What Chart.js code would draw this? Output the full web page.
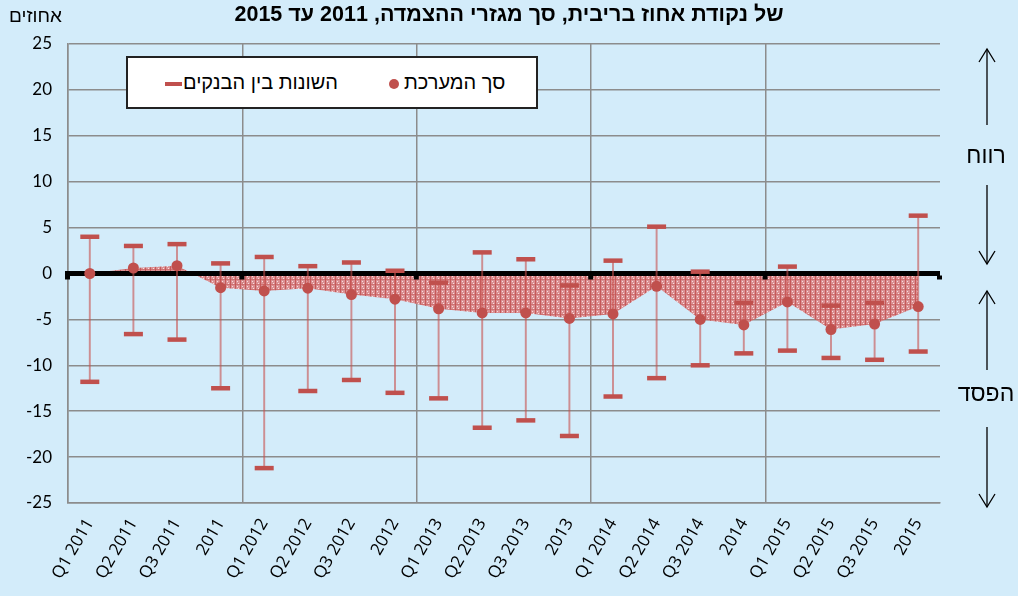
<!DOCTYPE html>
<html>
<head>
<meta charset="utf-8">
<script src="https://cdn.jsdelivr.net/npm/chart.js@4.4.0/dist/chart.umd.min.js"></script>
<style>
  html, body { margin: 0; padding: 0; }
  body { width: 1018px; height: 596px; background: #d3ecfa; position: relative; overflow: hidden; font-family: "Liberation Sans", "DejaVu Sans", sans-serif; }
  #wrap { position: absolute; left: 0; top: 0; width: 1018px; height: 596px; }
  .title { position: absolute; top: 2px; left: 0; width: 1018px; text-align: center; font-weight: bold; font-size: 21.5px; direction: rtl; color: #000; }
  .unit { position: absolute; top: 5px; left: 9px; font-size: 19px; direction: rtl; }
  .legend { position: absolute; left: 126px; top: 56px; width: 412px; height: 53px; background: #fff; border: 2px solid #222; box-sizing: border-box; }
  .legend span { position: absolute; top: 13px; font-size: 20px; direction: rtl; white-space: nowrap; }
  .side { position: absolute; font-size: 23px; direction: rtl; width: 70px; text-align: center; left: 951px; }
  svg { position: absolute; left: 0; top: 0; }
</style>
</head>
<body>
<div id="wrap"><canvas id="chart" width="1018" height="596"></canvas></div>
<div class="title">של נקודת אחוז בריבית, סך מגזרי ההצמדה, 2011 עד 2015</div>
<div class="unit">אחוזים</div>
<div class="legend">
  <svg width="412" height="53"><line x1="37" y1="26" x2="54" y2="26" stroke="#c0504d" stroke-width="4"/><circle cx="266" cy="26" r="5" fill="#c0504d"/></svg>
  <span style="left:55px">השונות בין הבנקים</span>
  <span style="left:276px">סך המערכת</span>
</div>
<svg width="1018" height="596" style="pointer-events:none">
  <g stroke="#000" stroke-width="1.3" fill="none">
    <line x1="987" y1="49" x2="987" y2="125"/><polyline points="979,62 987,49 995,62"/>
    <line x1="987" y1="185" x2="987" y2="264"/><polyline points="979,251 987,264 995,251"/>
    <line x1="987" y1="291" x2="987" y2="370"/><polyline points="979,304 987,291 995,304"/>
    <line x1="987" y1="427" x2="987" y2="507"/><polyline points="979,494 987,507 995,494"/>
  </g>
</svg>
<div class="side" style="top:142px">רווח</div>
<div class="side" style="top:380px">הפסד</div>
<script>
let labels = ['Q1 2011', 'Q2 2011', 'Q3 2011', '2011', 'Q1 2012', 'Q2 2012', 'Q3 2012', '2012',
  'Q1 2013', 'Q2 2013', 'Q3 2013', '2013', 'Q1 2014', 'Q2 2014', 'Q3 2014', '2014',
  'Q1 2015', 'Q2 2015', 'Q3 2015', '2015'];
// total system
let totalSystem = [0.0, 0.6, 0.85, -1.55, -1.9, -1.6, -2.3, -2.8,
  -3.85, -4.3, -4.3, -4.9, -4.4, -1.4, -5.0, -5.6,
  -3.1, -6.1, -5.5, -3.6];
// spread between banks - top and bottom
let bankHigh = [4.0, 3.0, 3.2, 1.1, 1.8, 0.8, 1.2, 0.3,
  -1.0, 2.3, 1.55, -1.3, 1.4, 5.1, 0.2, -3.2,
  0.75, -3.5, -3.2, 6.3];
let bankLow = [-11.8, -6.6, -7.2, -12.5, -21.2, -12.8, -11.6, -13.0,
  -13.6, -16.8, -16.0, -17.7, -13.4, -11.4, -10.0, -8.7,
  -8.4, -9.2, -9.4, -8.5];
let yTicks = [-25, -20, -15, -10, -5, 0, 5, 10, 15, 20, 25];

let red = '#c0504d';

// hatched pink fill
let pc = document.createElement('canvas');
pc.width = 5; pc.height = 5;
let p = pc.getContext('2d');
p.fillStyle = 'rgba(218,128,128,0.85)';
p.fillRect(0, 0, 5, 5);
p.fillStyle = 'rgba(195,80,80,0.85)';
p.fillRect(0, 0, 1, 5);
p.fillStyle = 'rgba(200,95,95,0.6)';
p.fillRect(1, 4, 4, 1);
p.fillStyle = 'rgba(255,230,230,0.9)';
p.fillRect(2, 1, 1, 1);
p.fillRect(3, 3, 1, 1);
let pattern = p.createPattern(pc, 'repeat');

let zeroLine = {
  id: 'zeroLine',
  beforeDatasetsDraw(chart) {
    let c = chart.ctx, y = chart.scales.y.getPixelForValue(0);
    let area = chart.chartArea, xs = chart.scales.x;
    c.save();
    c.fillStyle = '#000';
    c.fillRect(area.left - 3, y - 2.5, area.right - area.left + 3, 5);
    for (let i = 0; i <= labels.length; i += 4) {
      let x = i === labels.length ? area.right : xs.getPixelForValue(i) - (xs.getPixelForValue(1) - xs.getPixelForValue(0)) / 2;
      c.fillRect(x - 3, y + 2, 5, 4);
    }
    c.restore();
  }
};

let ctx = document.getElementById('chart').getContext('2d');
let chart = new Chart(ctx, {
  type: 'bar',
  data: {
    labels: labels,
    datasets: [{
      type: 'line',
      label: 'high',
      data: bankHigh,
      showLine: false,
      pointStyle: 'line',
      pointRadius: 9.5,
      pointBorderWidth: 4.5,
      pointBorderColor: red,
      order: 0
    }, {
      type: 'line',
      label: 'low',
      data: bankLow,
      showLine: false,
      pointStyle: 'line',
      pointRadius: 9.5,
      pointBorderWidth: 4.5,
      pointBorderColor: red,
      order: 0
    }, {
      type: 'line',
      label: 'total',
      data: totalSystem,
      borderWidth: 0,
      borderColor: 'rgba(0,0,0,0)',
      backgroundColor: pattern,
      fill: 'origin',
      tension: 0,
      pointRadius: 5.5,
      pointBorderWidth: 0,
      pointBackgroundColor: red,
      order: 1
    }, {
      type: 'bar',
      label: 'range',
      data: bankLow.map((v, i) => [v, bankHigh[i]]),
      backgroundColor: 'rgba(200,80,77,0.6)',
      barThickness: 1.3,
      order: 2
    }]
  },
  options: {
    responsive: false,
    animation: false,
    events: [],
    layout: { padding: { left: 0, right: 78, top: 44, bottom: 0 } },
    plugins: {
      legend: { display: false },
      tooltip: { enabled: false },
      filler: { drawTime: 'beforeDatasetsDraw' }
    },
    scales: {
      x: {
        offset: true,
        grid: {
          offset: true,
          drawTicks: false,
          color: c => c.index % 4 === 0 ? '#8c8c8c' : 'rgba(0,0,0,0)',
          lineWidth: 1.5
        },
        border: { display: true, color: '#8c8c8c', width: 1.5 },
        ticks: {
          autoSkip: false,
          minRotation: 60,
          maxRotation: 60,
          padding: 12,
          color: '#000',
          font: { family: 'Open Sans', size: 17 }
        },
        afterFit: s => { s.height = 93; }
      },
      y: {
        min: -25,
        max: 25,
        afterBuildTicks: s => { s.ticks = yTicks.map(v => ({ value: v })); },
        grid: { color: '#8c8c8c', lineWidth: 1.5, drawTicks: false },
        border: { display: true, color: '#8c8c8c', width: 1.5 },
        ticks: {
          padding: 16,
          color: '#000',
          font: { family: 'Lato', size: 17 }
        },
        afterFit: s => { s.width = 68; }
      }
    }
  },
  plugins: [zeroLine]
});
</script>
</body>
</html>
